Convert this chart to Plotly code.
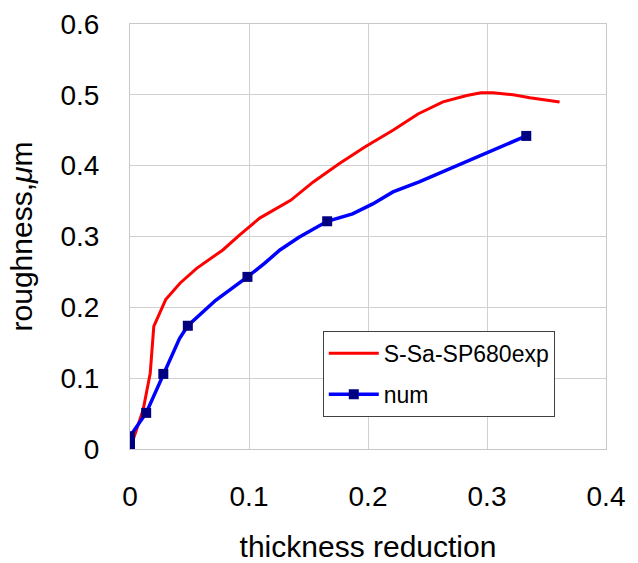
import plotly.graph_objects as go

exp_x = [0.0, 0.004, 0.011, 0.017, 0.020, 0.030, 0.042, 0.056, 0.078, 0.092, 0.109, 0.135,
         0.154, 0.176, 0.198, 0.221, 0.242, 0.263, 0.283, 0.295, 0.305, 0.322, 0.336, 0.361]
exp_y = [0.0, 0.02, 0.055, 0.107, 0.173, 0.211, 0.234, 0.255, 0.281, 0.302, 0.326, 0.351,
         0.377, 0.403, 0.427, 0.450, 0.473, 0.490, 0.499, 0.503, 0.503, 0.500, 0.496, 0.490]

num_x = [0.0, 0.0, 0.0, 0.0136, 0.028, 0.0416, 0.0486, 0.072, 0.0987, 0.113, 0.126, 0.142,
         0.1657, 0.187, 0.204, 0.221, 0.243, 0.299, 0.333]
num_y = [0.004, 0.013, 0.018, 0.051, 0.106, 0.156, 0.174, 0.210, 0.243, 0.262, 0.281, 0.299,
         0.3215, 0.332, 0.346, 0.363, 0.377, 0.417, 0.442]

mark_x = [0.0, 0.0, 0.0, 0.0136, 0.028, 0.0486, 0.0987, 0.1657, 0.333]
mark_y = [0.004, 0.013, 0.018, 0.051, 0.106, 0.174, 0.243, 0.3215, 0.442]

x_ticks = [0, 0.1, 0.2, 0.3, 0.4]
x_labels = ["0", "0.1", "0.2", "0.3", "0.4"]
y_ticks = [0, 0.1, 0.2, 0.3, 0.4, 0.5, 0.6]
y_labels = ["0", "0.1", "0.2", "0.3", "0.4", "0.5", "0.6"]

RED = "#ff0000"
BLUE = "#0000ff"
NAVY = "#000080"
FONT = "Liberation Sans, Arial, sans-serif"

fig = go.Figure()
fig.add_trace(go.Scatter(x=exp_x, y=exp_y, mode="lines", name="S-Sa-SP680exp",
                         line=dict(color=RED, width=3), legendgroup="a"))
fig.add_trace(go.Scatter(x=num_x, y=num_y, mode="lines", showlegend=False,
                         line=dict(color=BLUE, width=3.5), legendgroup="b"))
fig.add_trace(go.Scatter(x=mark_x, y=mark_y, mode="markers", showlegend=False,
                         marker=dict(symbol="square", size=10, color=NAVY), legendgroup="b"))
fig.add_trace(go.Scatter(x=[None], y=[None], mode="lines+markers", name="num",
                         line=dict(color=BLUE, width=3.5),
                         marker=dict(symbol="square", size=10, color=NAVY), legendgroup="b"))

axis_common = dict(showgrid=True, gridcolor="#d0d0d0", gridwidth=1, automargin=False,
                   showline=True, linecolor="#c8c8c8", linewidth=1, mirror=True,
                   zeroline=False, ticks="", tickfont=dict(family=FONT, size=28, color="#000"))

fig.update_xaxes(range=[0, 0.4], tickvals=x_ticks, ticktext=x_labels,
                 ticklabelstandoff=22,
                 title=dict(text="thickness reduction", font=dict(family=FONT, size=30, color="#000"),
                            standoff=28),
                 **axis_common)
fig.update_yaxes(range=[0, 0.6], tickvals=y_ticks, ticktext=y_labels,
                 ticklabelstandoff=24,
                 title=dict(text="roughness,<i>μ</i>m", font=dict(family=FONT, size=30, color="#000"),
                            standoff=18),
                 **axis_common)

fig.update_layout(
    width=638, height=563,
    margin=dict(l=130, r=32, t=24, b=114),
    paper_bgcolor="white", plot_bgcolor="white",
    font=dict(family=FONT, color="#000"),
    legend=dict(x=0.405, y=0.278, xanchor="left", yanchor="top",
                bgcolor="white", bordercolor="#404040", borderwidth=1,
                font=dict(family=FONT, size=23, color="#000"),
                tracegroupgap=8, traceorder="grouped", itemwidth=50),
)

fig.write_html("out.html")
